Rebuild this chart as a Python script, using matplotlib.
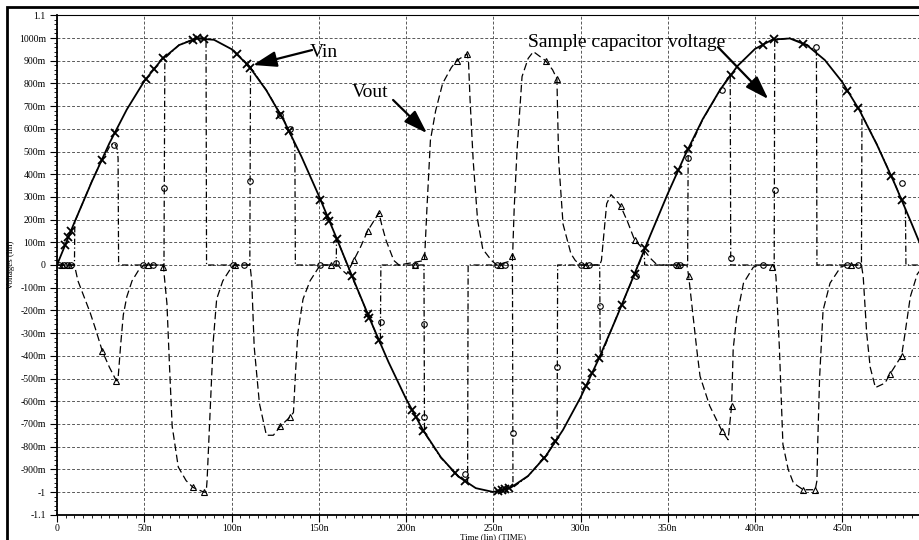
import numpy as np
import matplotlib
matplotlib.use('Agg')
import matplotlib.pyplot as plt
from matplotlib.patches import Rectangle
from matplotlib.ticker import MultipleLocator

W, H = 919, 540

# time in ns, voltage in V
vin_t = list(range(0, 510, 10))
vin_v = [0.0, 0.188, 0.368, 0.536, 0.685, 0.81, 0.905, 0.969, 0.998, 0.992,
         0.951, 0.876, 0.769, 0.636, 0.479, 0.306, 0.122, -0.066, -0.251, -0.428,
         -0.589, -0.73, -0.847, -0.932, -0.983, -1.0, -0.981, -0.929, -0.843, -0.726,
         -0.584, -0.421, -0.243, -0.057, 0.131, 0.314, 0.485, 0.642, 0.772, 0.877,
         0.952, 0.993, 0.998, 0.967, 0.903, 0.806, 0.68, 0.528, 0.359, 0.178, -0.008]
vin_mark_t = [4.6, 6.5, 8, 25.6, 33, 51, 55.6, 61, 78, 80, 84, 103, 109, 110.6, 128, 133,
              151, 155, 156, 160.5, 169, 178, 179, 184.5, 203.5, 205.7, 210, 228, 234,
              253, 255, 257, 259, 279, 285.6, 303, 306.6, 310.6, 323.6, 331, 337, 356,
              361.6, 386, 404.6, 411, 427.6, 453, 459, 478, 484]

vout_t = [0, 10, 12, 16, 19, 22, 26, 30, 34, 35, 36.5, 38, 40, 43, 47, 50,
          61, 61.5, 63, 64.5, 66, 69.5, 74, 78, 84, 85.5, 86, 87.7, 89.5, 91.5, 95, 100, 102,
          110.6, 111.6, 113, 116, 120, 124, 128, 133.5, 135.5, 136.5, 138, 141, 145, 150, 153,
          161, 163, 166, 170, 174, 178, 184.5, 186, 188.5, 193, 196,
          210.6, 212, 214, 217, 221, 226, 229, 235, 235.8, 236.7, 238.5, 241, 244, 249, 252,
          261, 262, 263.6, 266.5, 270, 273, 280, 284, 286.5, 286.8, 287.5, 290, 294.5, 297, 300,
          311, 312, 315, 317.5, 320, 323, 327, 331, 336, 340, 344,
          361, 362, 364.6, 366.6, 368.5, 374, 381, 384.6, 386.6, 387.5, 389.5, 393.4, 399, 402,
          411, 412, 414, 416, 419, 422, 427.6, 434.5, 435.5, 436, 437, 439, 443, 449, 452,
          461, 462, 464, 466, 469, 474.5, 477.4, 484, 486, 489, 493, 497, 500]
vout_v = [0, 0, -0.07, -0.15, -0.21, -0.28, -0.38, -0.45, -0.51, -0.5, -0.35, -0.22, -0.14, -0.07, -0.02, 0,
          0, -0.05, -0.17, -0.45, -0.71, -0.89, -0.95, -0.98, -1.0, -1.0, -0.95, -0.65, -0.34, -0.15, -0.07, -0.01, 0,
          0, -0.07, -0.36, -0.61, -0.75, -0.75, -0.71, -0.67, -0.65, -0.5, -0.3, -0.15, -0.07, -0.01, 0,
          0, -0.02, -0.04, 0.02, 0.08, 0.15, 0.23, 0.18, 0.11, 0.02, 0,
          0.02, 0.25, 0.55, 0.68, 0.8, 0.87, 0.9, 0.93, 0.9, 0.73, 0.46, 0.2, 0.07, 0.02, 0,
          0.02, 0.25, 0.5, 0.83, 0.91, 0.94, 0.9, 0.86, 0.82, 0.7, 0.46, 0.18, 0.05, 0.02, 0,
          0, 0.02, 0.27, 0.31, 0.29, 0.26, 0.19, 0.11, 0.07, 0.03, 0,
          0, -0.05, -0.23, -0.37, -0.49, -0.62, -0.73, -0.77, -0.62, -0.37, -0.23, -0.08, -0.01, 0,
          0, -0.05, -0.37, -0.79, -0.9, -0.96, -0.99, -0.99, -0.95, -0.77, -0.5, -0.2, -0.08, -0.01, 0,
          0, -0.05, -0.3, -0.45, -0.54, -0.52, -0.48, -0.4, -0.3, -0.14, -0.04, 0, 0]
vout_mark_t = [3, 7, 26, 34, 52, 61, 78, 84, 102, 128, 133.5, 157, 170, 178, 184.5, 205,
               210.6, 229, 235, 254, 261, 280, 286.5, 303, 323, 331, 356, 362, 381, 386.6,
               410, 427.6, 434.5, 455, 477.4, 484]
vout_mark_v = [0, 0, -0.38, -0.51, 0, -0.01, -0.98, -1.0, 0, -0.71, -0.67, 0, 0.02, 0.15, 0.23, 0,
               0.04, 0.9, 0.93, 0, 0.04, 0.9, 0.82, 0, 0.26, 0.11, 0, -0.05, -0.73, -0.62,
               -0.01, -0.99, -0.99, 0, -0.48, -0.4]

cap_t = [0, 10, 10.2, 20, 25, 28, 30, 32, 33.5, 34.5, 35, 35.3, 61.3, 61.8, 70, 80, 85.4, 85.7,
         110.5, 110.9, 120, 130, 136.3, 136.6, 160, 160.2, 170, 180, 185.3, 185.6,
         210.3, 210.6, 220, 230, 235.3, 235.6, 261, 261.3, 270, 280, 286.6, 286.9,
         311, 311.3, 320, 330, 336.5, 336.8, 361.4, 361.7, 370, 380, 385.8, 386.1,
         411, 411.3, 420, 430, 435.2, 435.5, 461, 461.3, 470, 480, 486.2, 486.5, 500]
cap_v = [0, 0, 0.19, 0.37, 0.45, 0.49, 0.52, 0.535, 0.53, 0.51, 0.47, 0, 0, 0.91, 0.97, 1.0, 1.0, 0,
         0, 0.87, 0.77, 0.64, 0.53, 0, 0, 0.12, -0.07, -0.25, -0.35, 0,
         0, -0.74, -0.85, -0.93, -0.96, 0, 0, -0.98, -0.93, -0.84, -0.77, 0,
         0, -0.41, -0.24, -0.06, 0.06, 0, 0, 0.5, 0.64, 0.77, 0.84, 0,
         0, 0.99, 1.0, 0.97, 0.94, 0, 0, 0.66, 0.53, 0.36, 0.25, 0, 0]
cap_mark_t = [1, 4, 6, 8, 32.5, 49, 55, 61.5, 101, 107, 110.8, 128, 133.5, 151, 160, 185.5, 205,
              210.5, 210.5, 234, 252, 257, 261.2, 286.8, 300, 305, 311.2, 332, 355, 357, 361.6,
              381, 386, 404.6, 411.2, 435, 453, 459, 484]
cap_mark_v = [0, 0, 0, 0, 0.53, 0, 0, 0.34, 0, 0, 0.37, 0.66, 0.6, 0, 0.01, -0.25, 0,
              -0.26, -0.67, -0.92, 0, 0, -0.74, -0.45, 0, 0, -0.18, -0.05, 0, 0, 0.47,
              0.77, 0.03, 0, 0.33, 0.96, 0, 0, 0.36]

xtick_vals = list(range(0, 550, 50))
xtick_labels = ['0', '50n', '100n', '150n', '200n', '250n', '300n', '350n', '400n', '450n', '500n']
ytick_vals = [round(-1.1 + 0.1 * i, 1) for i in range(23)]
ytick_labels = ['-1.1', '-1', '-900m', '-800m', '-700m', '-600m', '-500m', '-400m', '-300m',
                '-200m', '-100m', '0', '100m', '200m', '300m', '400m', '500m', '600m', '700m',
                '800m', '900m', '1000m', '1.1']

serif = ['Liberation Serif', 'DejaVu Serif']
plt.rcParams['font.family'] = serif

fig = plt.figure(figsize=(W / 100, H / 100), dpi=100)
x0, x1 = 57, 929.5
y0, y1 = 15.3, 514.7
ax = fig.add_axes([x0 / W, 1 - y1 / H, (x1 - x0) / W, (y1 - y0) / H])

ax.plot(cap_t, cap_v, color='black', lw=0.9, ls=(0, (5, 2, 1, 2)))
ax.plot(vout_t, vout_v, color='black', lw=0.9, ls=(0, (6, 3)))
ax.plot(vin_t, vin_v, color='black', lw=1.3)

ax.plot(cap_mark_t, cap_mark_v, 'o', ms=4.0, mfc='none', mec='black', mew=0.8)
ax.plot(vout_mark_t, vout_mark_v, '^', ms=3.8, mfc='none', mec='black', mew=0.8)
ax.plot(vin_mark_t, np.interp(vin_mark_t, vin_t, vin_v), 'x', ms=6.2, color='black', mew=1.3)

ax.set_xlim(0, 500)
ax.set_ylim(-1.1, 1.1)
ax.set_xticks(xtick_vals)
ax.set_xticklabels(xtick_labels)
ax.set_yticks(ytick_vals)
ax.set_yticklabels(ytick_labels)
ax.xaxis.set_minor_locator(MultipleLocator(5))
ax.yaxis.set_minor_locator(MultipleLocator(0.02))
ax.tick_params(which='major', direction='out', length=5, width=0.8, labelsize=7, pad=3)
ax.tick_params(axis='x', which='major', pad=1.5)
ax.tick_params(which='minor', direction='out', length=2.2, width=0.6)
ax.grid(True, which='major', color='0.35', ls=(0, (3, 2)), lw=0.7)
ax.set_axisbelow(True)
for s in ['left', 'bottom']:
    ax.spines[s].set_linewidth(1.3)
ax.spines['top'].set_linewidth(0.8)

# labels and arrows
ax.text(145, 0.916, 'Vin', fontsize=14, ha='left', va='baseline')
ax.text(169, 0.74, 'Vout', fontsize=14, ha='left', va='baseline')
ax.text(270, 0.96, 'Sample capacitor voltage', fontsize=14, ha='left', va='baseline')
arrows = [((146.2, 0.947), (112.3, 0.881)),
          ((192.6, 0.727), (212.0, 0.581)),
          ((378.8, 0.96), (407.6, 0.731))]
for tail, tip in arrows:
    ax.annotate('', xy=tip, xytext=tail,
                arrowprops=dict(arrowstyle='-|>,head_length=0.9,head_width=0.3',
                                color='black', lw=1.6, mutation_scale=16,
                                shrinkA=0, shrinkB=0))

fig.text(11 / W, 1 - 265 / H, 'Voltages (lin)', rotation=90, fontsize=6.5,
         ha='center', va='center')
fig.text(493 / W, 1 - 537 / H, 'Time (lin) (TIME)', fontsize=6.5, ha='center', va='center')

fig.patches.append(Rectangle((7 / W, -0.5), 2, 1.5 - 7 / H, transform=fig.transFigure,
                             fill=False, lw=2, edgecolor='black'))

fig.savefig('out.png', dpi=100)
